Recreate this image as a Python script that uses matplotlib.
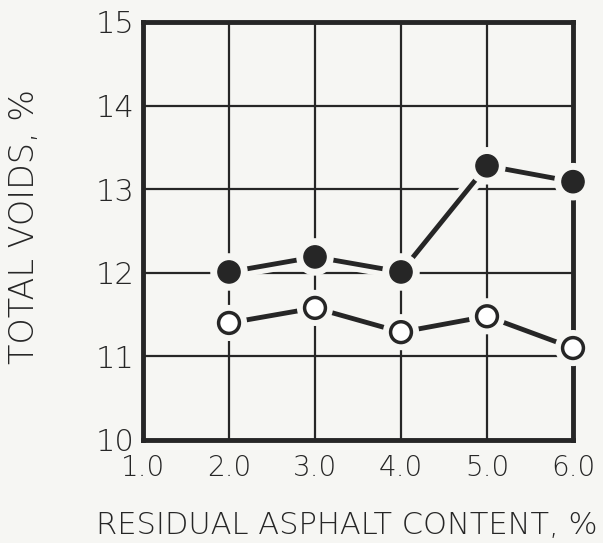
import matplotlib
matplotlib.use("Agg")
import matplotlib.pyplot as plt
import matplotlib.patheffects as pe

# residual asphalt content, %
asphalt = [2.0, 3.0, 4.0, 5.0, 6.0]
# total voids, % (filled and open symbols)
voids_filled = [12.01, 12.19, 12.01, 13.28, 13.09]
voids_open = [11.40, 11.58, 11.29, 11.48, 11.10]

x_ticks = [1.0, 2.0, 3.0, 4.0, 5.0, 6.0]
x_labels = ["1.0", "2.0", "3.0", "4.0", "5.0", "6.0"]
y_ticks = [10, 11, 12, 13, 14, 15]

ink = "#262626"
paper = "#f6f6f3"
plt.rcParams['font.family'] = ['DejaVu Sans']

fig = plt.figure(figsize=(6.03, 5.43), dpi=100, facecolor=paper)
ax = fig.add_axes([143 / 603, 103 / 543, 430 / 603, 418 / 543])
ax.set_facecolor(paper)

ax.set_xlim(1.0, 6.0)
ax.set_ylim(10, 15)
ax.set_xticks(x_ticks)
ax.set_xticklabels(x_labels)
ax.set_yticks(y_ticks)
ax.tick_params(length=0, labelsize=20, colors=ink, pad=10)
for lab in ax.get_xticklabels() + ax.get_yticklabels():
    lab.set_fontweight("light")
for lab in ax.get_yticklabels():
    lab.set_fontsize(22)
ax.tick_params(axis="y", pad=6)
ax.grid(True, color=ink, linewidth=1.6)
ax.set_axisbelow(True)
for s in ax.spines.values():
    s.set_linewidth(3.5)
    s.set_color(ink)

halo = [pe.Stroke(linewidth=11, foreground=paper), pe.Normal()]
ax.plot(asphalt, voids_filled, color=ink, linewidth=3.5, marker="o",
        markersize=16, markerfacecolor=ink, markeredgecolor=ink,
        clip_on=False, zorder=3, path_effects=halo)
ax.plot(asphalt, voids_open, color=ink, linewidth=3.5, marker="o",
        markersize=15, markerfacecolor="white", markeredgecolor=ink,
        markeredgewidth=2.5, clip_on=False, zorder=3, path_effects=halo)

fig.text(25 / 603, 1 - 226 / 543, "TOTAL VOIDS, %", rotation=90,
         ha="center", va="center", fontsize=24, color=ink,
         fontweight="light")
fig.text(96 / 603, 1 - 525 / 543, "RESIDUAL ASPHALT CONTENT, %",
         ha="left", va="center", fontsize=22, color=ink,
         fontweight="light")

fig.savefig("out.png", dpi=100, facecolor=paper)
